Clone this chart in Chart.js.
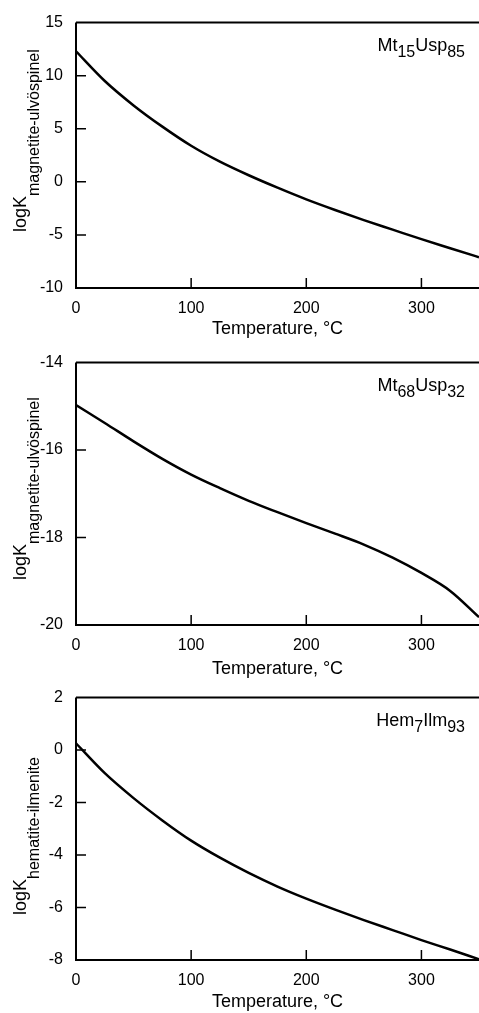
<!DOCTYPE html>
<html>
<head>
<meta charset="utf-8">
<script src="https://cdn.jsdelivr.net/npm/chart.js@4/dist/chart.umd.min.js"></script>
<style>
  body { margin: 0; background: #fff; width: 479px; height: 1013px; overflow: hidden; position: relative; }
  .panel { position: absolute; left: 0; width: 479px; }
</style>
</head>
<body>
<div class="panel" style="top:0px;height:340px"><canvas id="chart1" width="479" height="340"></canvas></div>
<div class="panel" style="top:340px;height:340px"><canvas id="chart2" width="479" height="340"></canvas></div>
<div class="panel" style="top:675px;height:338px"><canvas id="chart3" width="479" height="338"></canvas></div>
<script>
// temperature, °C
const temps = [0, 25, 50, 75, 100, 125, 150, 175, 200, 225, 250, 275, 300, 325, 350];
// logK values
const logKMt15Usp85 = [12.3, 9.5, 7.2, 5.2, 3.4, 1.9, 0.62, -0.55, -1.65, -2.65, -3.6, -4.5, -5.4, -6.25, -7.1];
const logKMt68Usp32 = [-14.97, -15.38, -15.8, -16.2, -16.56, -16.87, -17.16, -17.42, -17.67, -17.91, -18.16, -18.46, -18.81, -19.22, -19.82];
const logKHem7Ilm93 = [0.26, -0.88, -1.83, -2.68, -3.45, -4.1, -4.68, -5.2, -5.66, -6.08, -6.48, -6.86, -7.24, -7.6, -7.97];

const xTickValues = [0, 100, 200, 300];

const FONT = '"Liberation Sans", Arial, Helvetica, sans-serif';

// frame (top, left, bottom), inward tick marks, rotated y title and the sample label
const decorPlugin = {
  id: 'decor',
  afterDatasetsDraw(chart, args, opts) {
    const ctx = chart.ctx;
    const a = chart.chartArea;
    const x = chart.scales.x;
    const y = chart.scales.y;
    ctx.save();
    ctx.strokeStyle = '#000';
    ctx.lineWidth = 2;
    ctx.beginPath();
    ctx.moveTo(a.left, a.top);
    ctx.lineTo(a.right, a.top);
    ctx.moveTo(a.left, a.top);
    ctx.lineTo(a.left, a.bottom);
    ctx.lineTo(a.right, a.bottom);
    ctx.stroke();

    ctx.lineWidth = 1.5;
    ctx.beginPath();
    x.ticks.forEach(t => {
      if (t.value <= x.min || t.value >= x.max) return;
      const px = x.getPixelForValue(t.value);
      ctx.moveTo(px, a.bottom);
      ctx.lineTo(px, a.bottom - 10);
    });
    y.ticks.forEach(t => {
      if (t.value <= y.min || t.value >= y.max) return;
      const py = y.getPixelForValue(t.value);
      ctx.moveTo(a.left, py);
      ctx.lineTo(a.left + 10, py);
    });
    ctx.stroke();

    ctx.fillStyle = '#000';
    ctx.textBaseline = 'alphabetic';

    // y axis title: logK with subscript, rotated
    ctx.save();
    ctx.translate(26, opts.titleStart);
    ctx.rotate(-Math.PI / 2);
    ctx.textAlign = 'left';
    ctx.font = '18px ' + FONT;
    ctx.fillText('logK', 0, 0);
    const w = ctx.measureText('logK').width;
    ctx.font = '16px ' + FONT;
    ctx.fillText(opts.titleSub, w, 13);
    ctx.restore();

    // sample label in the top right corner
    const parts = opts.label;
    let total = 0;
    parts.forEach((p, i) => {
      ctx.font = (i % 2 ? '16px ' : '18px ') + FONT;
      total += ctx.measureText(p).width;
    });
    let cx = a.right - 14 - total;
    const base = a.top + 28;
    parts.forEach((p, i) => {
      ctx.font = (i % 2 ? '16px ' : '18px ') + FONT;
      ctx.fillText(p, cx, base + (i % 2 ? 6 : 0));
      cx += ctx.measureText(p).width;
    });
    ctx.restore();
  }
};

function makePanel(id, values, yMin, yMax, yStep, padTop, xHeight, titlePad, decor) {
  const ctx = document.getElementById(id).getContext('2d');
  return new Chart(ctx, {
    type: 'line',
    data: {
      datasets: [{
        data: temps.map((t, i) => ({ x: t, y: values[i] })),
        borderColor: '#000',
        borderWidth: 2.5,
        pointRadius: 0,
        fill: false,
        cubicInterpolationMode: 'monotone'
      }]
    },
    options: {
      responsive: false,
      animation: false,
      events: [],
      layout: { padding: { top: padTop, left: 0, right: 0, bottom: 0 } },
      plugins: {
        legend: { display: false },
        tooltip: { enabled: false },
        decor: decor
      },
      scales: {
        x: {
          type: 'linear',
          min: 0,
          max: 350,
          afterBuildTicks: s => { s.ticks = xTickValues.map(v => ({ value: v })); },
          afterFit: s => { s.height = xHeight; },
          grid: { display: false, drawTicks: false },
          border: { display: false },
          ticks: { color: '#000', font: { family: FONT, size: 16 }, padding: 11, maxRotation: 0 },
          title: {
            display: true,
            text: 'Temperature, °C',
            color: '#000',
            font: { family: FONT, size: 18 },
            padding: { top: titlePad, bottom: 0 }
          }
        },
        y: {
          min: yMin,
          max: yMax,
          afterFit: s => { s.width = 76; },
          grid: { display: false, drawTicks: false },
          border: { display: false },
          ticks: { color: '#000', font: { family: FONT, size: 16 }, padding: 13, stepSize: yStep }
        }
      }
    },
    plugins: [decorPlugin]
  });
}

makePanel('chart1', logKMt15Usp85, -10, 15, 5, 15, 52, 0,
  { titleStart: 232, titleSub: 'magnetite-ulvöspinel', label: ['Mt', '15', 'Usp', '85'] });
makePanel('chart2', logKMt68Usp32, -20, -14, 2, 12, 55, 3,
  { titleStart: 240, titleSub: 'magnetite-ulvöspinel', label: ['Mt', '68', 'Usp', '32'] });
makePanel('chart3', logKHem7Ilm93, -8, 2, 2, 12, 53, 1,
  { titleStart: 240, titleSub: 'hematite-ilmenite', label: ['Hem', '7', 'Ilm', '93'] });
</script>
</body>
</html>
